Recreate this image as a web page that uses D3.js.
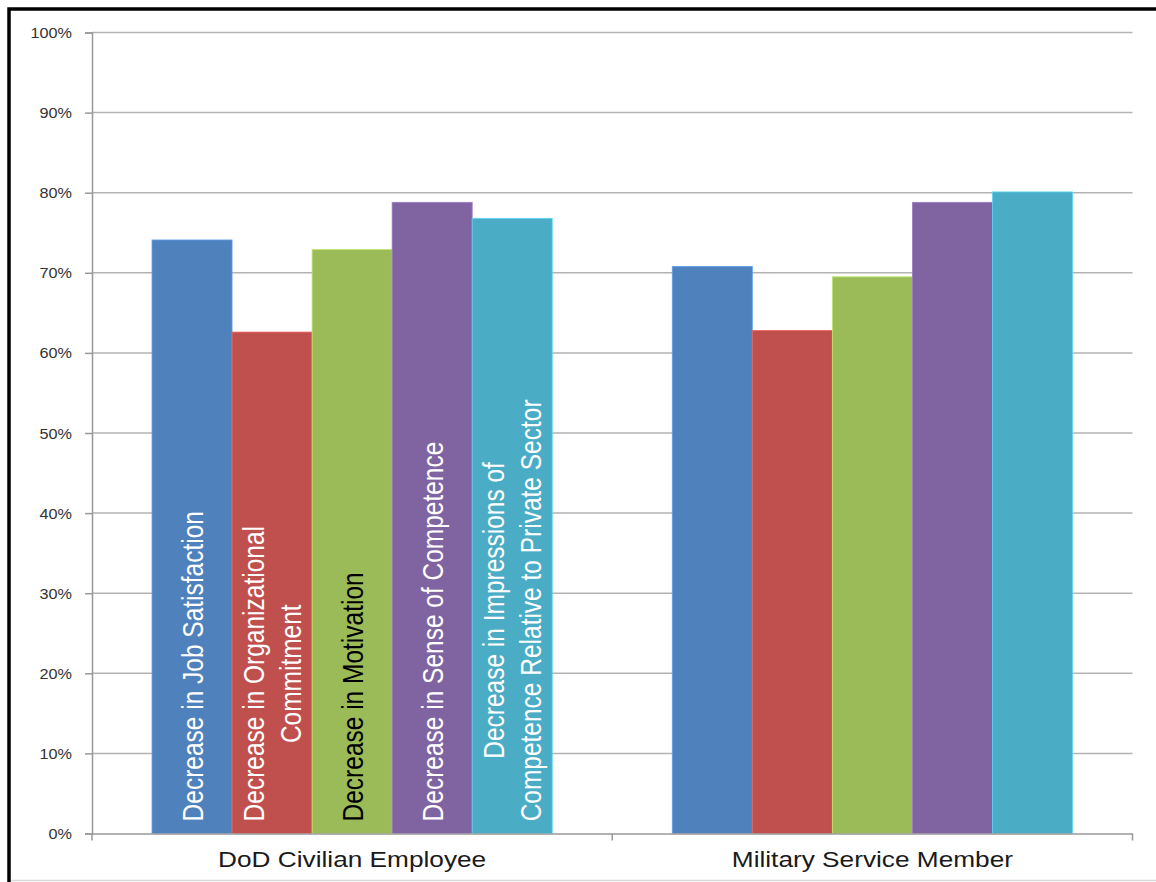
<!DOCTYPE html>
<html>
<head>
<meta charset="utf-8">
<script src="https://cdn.jsdelivr.net/npm/d3@7"></script>
<style>
  body { margin: 0; background: #fff; }
  svg { display: block; font-family: "Liberation Sans", Arial, sans-serif; }
</style>
</head>
<body>
<div id="canvas"></div>
<script>
const groups = ['DoD Civilian Employee', 'Military Service Member']

const series = [
  'Decrease in Job Satisfaction',
  'Decrease in Organizational Commitment',
  'Decrease in Motivation',
  'Decrease in Sense of Competence',
  'Decrease in Impressions of Competence Relative to Private Sector'
]

// label lines as they wrap inside the bars
const seriesLines = [
  ['Decrease in Job Satisfaction'],
  ['Decrease in Organizational', 'Commitment'],
  ['Decrease in Motivation'],
  ['Decrease in Sense of Competence'],
  ['Decrease in Impressions of', 'Competence Relative to Private Sector']
]

const civilianValues = [0.741, 0.626, 0.729, 0.788, 0.768]
const militaryValues = [0.708, 0.628, 0.695, 0.788, 0.801]

const yTicks = [0, 0.1, 0.2, 0.3, 0.4, 0.5, 0.6, 0.7, 0.8, 0.9, 1]

const colors = ['#4F81BD', '#C0504D', '#9BBB59', '#8064A2', '#4BACC6']
const labelColors = ['#fff', '#fff', '#000', '#fff', '#fff']

const values = [civilianValues, militaryValues]
const rows = []
groups.forEach((g, gi) => {
  series.forEach((s, si) => rows.push({ group: g, series: s, si: si, value: values[gi][si] }))
})

const width = 1156
const height = 882
const plot = { left: 92, right: 1132.5, top: 32.5, bottom: 833.5 }
const stretch = 1.22

const svg = d3.select('#canvas')
  .append('svg')
    .attr('width', width)
    .attr('height', height)

// frame
svg.append('rect')
  .attr('x', 9).attr('y', 9)
  .attr('width', 1170).attr('height', 890)
  .attr('fill', 'none')
  .attr('stroke', '#000')
  .attr('stroke-width', 3.5)
svg.append('line')
  .attr('x1', 11).attr('x2', width)
  .attr('y1', 880.5).attr('y2', 880.5)
  .attr('stroke', '#d9d9d9')
  .attr('stroke-width', 1.5)

const x0 = d3.scaleBand()
  .domain(groups)
  .range([plot.left, plot.right])

const x1 = d3.scaleBand()
  .domain(series)
  .range([0, x0.bandwidth()])
  .paddingOuter(0.75)

const y = d3.scaleLinear()
  .domain([0, 1])
  .range([plot.bottom, plot.top])

// gridlines
svg.append('g')
  .selectAll('line')
  .data(yTicks.slice(1))
  .enter()
  .append('line')
    .attr('x1', plot.left)
    .attr('x2', plot.right)
    .attr('y1', d => y(d))
    .attr('y2', d => y(d))
    .attr('stroke', '#b3b3b3')
    .attr('stroke-width', 1.5)

// y axis
const yAxis = svg.append('g')
  .attr('transform', `translate(${plot.left}, 0)`)
  .call(d3.axisLeft(y).tickValues(yTicks).tickFormat(d3.format('.0%')).tickSize(7).tickPadding(0))
yAxis.select('.domain').attr('stroke', '#999').attr('stroke-width', 1.5)
yAxis.selectAll('.tick line').attr('stroke', '#999').attr('stroke-width', 1.5)
yAxis.selectAll('.tick text')
  .attr('x', null).attr('dy', null)
  .attr('transform', `translate(-20, 5) scale(1.12, 1)`)
  .attr('font-size', '14.5px')
  .attr('fill', '#333')

// bars
svg.append('g')
  .selectAll('rect')
  .data(rows)
  .enter()
  .append('rect')
    .attr('x', d => x0(d.group) + x1(d.series))
    .attr('y', d => y(d.value))
    .attr('width', x1.bandwidth())
    .attr('height', d => y(0) - y(d.value))
    .attr('fill', d => colors[d.si])
    .attr('stroke', d => d3.color(colors[d.si]).brighter(0.6))
    .attr('stroke-width', 0.8)

// x axis
const xAxis = svg.append('g')
  .attr('transform', `translate(0, ${plot.bottom})`)
  .call(d3.axisBottom(x0).tickSize(0).tickPadding(0))
xAxis.select('.domain').attr('stroke', '#999').attr('stroke-width', 1.5)
xAxis.selectAll('.tick text')
  .attr('y', null).attr('dy', null)
  .attr('transform', `translate(0, 33) scale(${stretch}, 1)`)
  .attr('font-size', '21.5px')
  .attr('fill', '#1a1a1a')
// category separators
const edges = [x0(groups[0])].concat(groups.map(d => x0(d) + x0.bandwidth()))
xAxis.append('g')
  .selectAll('line')
  .data(edges)
  .enter()
  .append('line')
    .attr('x1', d => d)
    .attr('x2', d => d)
    .attr('y1', 0).attr('y2', 7)
    .attr('stroke', '#999')
    .attr('stroke-width', 1.5)

// rotated series labels inside the first group's bars
const fontSize = 24.5
const lineGap = 30.3
svg.append('g')
  .selectAll('g')
  .data(series)
  .enter()
  .append('g')
    .each(function(s, i) {
      const cx = x0(groups[0]) + x1(s) + x1.bandwidth() / 2
      const lines = seriesLines[i]
      const inner = d3.select(this).append('g')
      const texts = inner.selectAll('text')
        .data(lines)
        .enter()
        .append('text')
          .attr('font-size', fontSize + 'px')
          .attr('fill', labelColors[i])
          .attr('text-anchor', 'middle')
          .attr('y', (d, k) => (k - (lines.length - 1) / 2) * lineGap + fontSize * 0.35)
          .text(d => d)
      let maxLen = 0
      texts.each(function() { maxLen = Math.max(maxLen, this.getComputedTextLength()) })
      inner.attr('transform', `translate(${cx}, ${y(0) - 12 - maxLen / 2}) scale(${stretch}, 1) rotate(-90)`)
    })
</script>
</body>
</html>
